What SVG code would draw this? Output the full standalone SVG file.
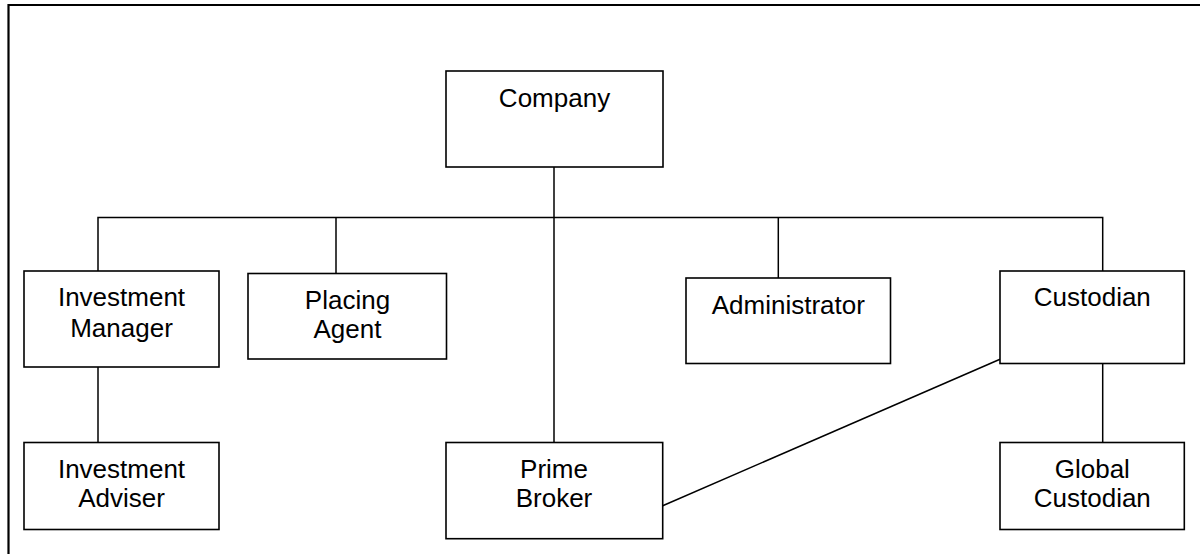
<svg xmlns="http://www.w3.org/2000/svg" width="1200" height="554" viewBox="0 0 1200 554">
<style>
.box{fill:#fff;stroke:#000;stroke-width:1.6}
.ln{stroke:#000;stroke-width:1.5;fill:none}
.t{font-family:"Liberation Sans",Arial,sans-serif;font-size:26px;fill:#000;text-anchor:middle}
</style>
<rect width="1200" height="554" fill="#fff"/>
<g id="frame">
<path d="M8.5 554 V5 H1200" fill="none" stroke="#000" stroke-width="2.2"/>
</g>
<g id="connectors">
<path class="ln" d="M554 167 V442"/>
<path class="ln" d="M98 271 V217.5 H1102.7 V271"/>
<path class="ln" d="M336 217.5 V273.5"/>
<path class="ln" d="M778.3 217.5 V278"/>
<path class="ln" d="M98 367 V442.5"/>
<path class="ln" d="M1102.7 363.5 V442.5"/>
<path class="ln" d="M662.7 505.7 L1000 359.3"/>
</g>
<g id="company">
<rect class="box" x="446" y="71" width="217" height="96"/>
<text class="t" x="554.5" y="107">Company</text>
</g>
<g id="investment-manager">
<rect class="box" x="24" y="271" width="195" height="96"/>
<text class="t" x="121.5" y="306">Investment</text>
<text class="t" x="121.5" y="336.5">Manager</text>
</g>
<g id="placing-agent">
<rect class="box" x="248" y="273.5" width="198.5" height="85.5"/>
<text class="t" x="347.5" y="308.5">Placing</text>
<text class="t" x="347.5" y="338">Agent</text>
</g>
<g id="administrator">
<rect class="box" x="686" y="278" width="204.5" height="85.5"/>
<text class="t" x="788.3" y="313.5">Administrator</text>
</g>
<g id="custodian">
<rect class="box" x="1000" y="271" width="184.3" height="92.5"/>
<text class="t" x="1092.3" y="306">Custodian</text>
</g>
<g id="investment-adviser">
<rect class="box" x="24" y="442.5" width="195" height="87"/>
<text class="t" x="121.5" y="477.7">Investment</text>
<text class="t" x="121.5" y="507.3">Adviser</text>
</g>
<g id="prime-broker">
<rect class="box" x="446" y="442.5" width="216.7" height="96.2"/>
<text class="t" x="554" y="477.7">Prime</text>
<text class="t" x="554" y="507.3">Broker</text>
</g>
<g id="global-custodian">
<rect class="box" x="1000" y="442.5" width="184.3" height="87"/>
<text class="t" x="1092.3" y="477.7">Global</text>
<text class="t" x="1092.3" y="507.3">Custodian</text>
</g>
</svg>
